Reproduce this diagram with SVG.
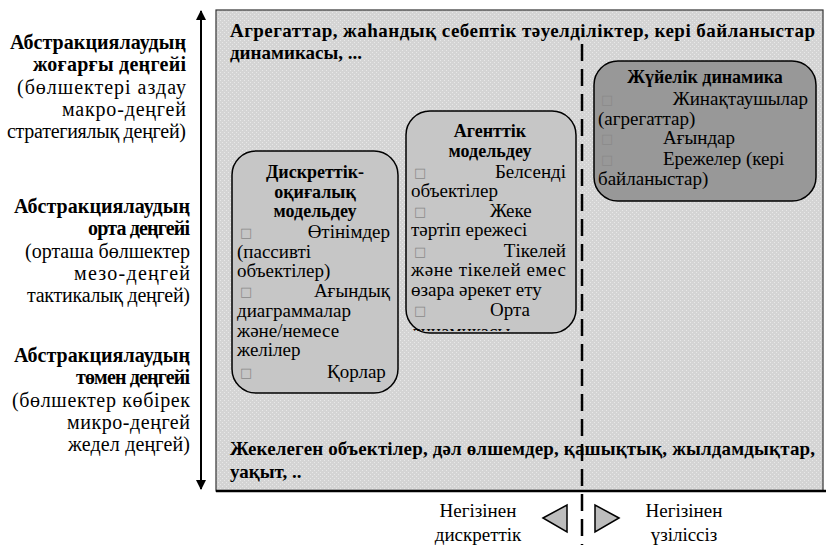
<svg xmlns="http://www.w3.org/2000/svg" width="826" height="545" viewBox="0 0 826 545">
<defs>
<pattern id="dots" width="4" height="4" patternUnits="userSpaceOnUse">
<rect width="4" height="4" fill="#d4d4d4"/>
<rect x="0" y="0" width="1" height="1" fill="#e8e8e8"/>
<rect x="2" y="2" width="1" height="1" fill="#e8e8e8"/>
</pattern>
<marker id="ah" viewBox="0 0 10 10" refX="9" refY="5" markerWidth="10" markerHeight="10" markerUnits="userSpaceOnUse" orient="auto-start-reverse">
<path d="M0,0 L10,5 L0,10 Z" fill="#000"/>
</marker>
<clipPath id="clip2"><rect x="400" y="100" width="190" height="231"/></clipPath>
</defs>
<style>
text{font-family:'Liberation Serif','Times New Roman',serif}
.lbl{font-size:19px;fill:#000}
.side{font-size:20px;fill:#000}
.b{font-weight:bold}
.bx{font-size:19px;fill:#000}
.bx .b{font-size:18px}
.bul text{font-family:'DejaVu Sans',sans-serif;font-size:13px;fill:#8a8a8a}
.box{stroke:#000;stroke-width:1.5}
</style>

<g id="axis">
<line x1="201" y1="11" x2="201" y2="489" stroke="#000" stroke-width="2" marker-start="url(#ah)" marker-end="url(#ah)"/>
</g>

<g id="levels" class="side" text-anchor="end" lengthAdjust="spacing">
<text x="186" y="49" class="b" textLength="176">Абстракциялаудың</text>
<text x="186" y="71" class="b" textLength="153">жоғарғы деңгейі</text>
<text x="186" y="94" textLength="169">(бөлшектері аздау</text>
<text x="186" y="116" textLength="124">макро-деңгей</text>
<text x="186" y="138" textLength="179">стратегиялық деңгей)</text>
<text x="190" y="213" class="b" textLength="176">Абстракциялаудың</text>
<text x="190" y="235" class="b" textLength="102">орта деңгейі</text>
<text x="190" y="258" textLength="165">(орташа бөлшектер</text>
<text x="190" y="280" textLength="116">мезо-деңгей</text>
<text x="190" y="302" textLength="163">тактикалық деңгей)</text>
<text x="190" y="362" class="b" textLength="176">Абстракциялаудың</text>
<text x="190" y="384" class="b" textLength="114">төмен деңгейі</text>
<text x="190" y="407" textLength="178">(бөлшектер көбірек</text>
<text x="190" y="429" textLength="123">микро-деңгей</text>
<text x="190" y="451" textLength="122">жедел деңгей)</text>
</g>

<g id="area">
<rect x="216" y="10" width="607" height="481" fill="url(#dots)" stroke="#333" stroke-width="1.2"/>
<line x1="216" y1="491" x2="826" y2="491" stroke="#000" stroke-width="2.5"/>
<text class="lbl b" x="230" y="37" textLength="585" lengthAdjust="spacing">Агрегаттар, жаһандық себептік тәуелділіктер, кері байланыстар</text>
<text class="lbl b" x="230" y="59">динамикасы, ...</text>
<text class="lbl b" x="230" y="455" textLength="585" lengthAdjust="spacing">Жекелеген объектілер, дәл өлшемдер, қашықтық, жылдамдықтар,</text>
<text class="lbl b" x="230" y="478">уақыт, ..</text>
</g>

<g id="discrete">
<rect class="box" x="232" y="151" width="166" height="242" rx="24" fill="#c6c6c6"/>
<g class="bx">
<text x="315" y="178" text-anchor="middle" class="b">Дискреттік-</text>
<text x="315" y="198" text-anchor="middle" class="b">оқиғалық</text>
<text x="315" y="217" text-anchor="middle" class="b">модельдеу</text>
<text x="390" y="238" text-anchor="end">Өтінімдер</text>
<text x="237" y="258">(пассивті</text>
<text x="237" y="277">объектілер)</text>
<text x="390" y="297" text-anchor="end">Ағындық</text>
<text x="237" y="317">диаграммалар</text>
<text x="237" y="337">және/немесе</text>
<text x="237" y="356">желілер</text>
<text x="327" y="378">Қорлар</text>
</g>
<g class="bul">
<text x="240" y="237">□</text>
<text x="240" y="296">□</text>
<text x="240" y="377">□</text>
</g>
</g>

<g id="agent">
<rect class="box" x="406" y="111" width="170" height="222" rx="24" fill="#c6c6c6"/>
<g class="bx" clip-path="url(#clip2)">
<text x="490" y="137" text-anchor="middle" class="b">Агенттік</text>
<text x="490" y="157" text-anchor="middle" class="b">модельдеу</text>
<text x="566" y="178" text-anchor="end">Белсенді</text>
<text x="411" y="197">объектілер</text>
<text x="490" y="217">Жеке</text>
<text x="411" y="236">тәртіп ережесі</text>
<text x="566" y="257" text-anchor="end">Тікелей</text>
<text x="411" y="276" textLength="155" lengthAdjust="spacing">және тікелей емес</text>
<text x="411" y="296">өзара әрекет ету</text>
<text x="490" y="316">Орта</text>
<text x="411" y="338">динамикасы</text>
</g>
<g class="bul">
<text x="414" y="177">□</text>
<text x="414" y="216">□</text>
<text x="414" y="256">□</text>
<text x="414" y="315">□</text>
</g>
</g>

<g id="system">
<rect class="box" x="594" y="61" width="222" height="140" rx="24" fill="#989898"/>
<g class="bx">
<text x="705" y="83" text-anchor="middle" class="b">Жүйелік динамика</text>
<text x="808" y="105" text-anchor="end">Жинақтаушылар</text>
<text x="598" y="125">(агрегаттар)</text>
<text x="663" y="144">Ағындар</text>
<text x="663" y="165">Ережелер (кері</text>
<text x="598" y="185">байланыстар)</text>
</g>
<g class="bul">
<text x="601" y="104">□</text>
<text x="601" y="143">□</text>
<text x="601" y="164">□</text>
</g>
</g>

<g id="connectors">
<line x1="582" y1="44" x2="582" y2="545" stroke="#000" stroke-width="2.5" stroke-dasharray="17,8"/>
<polygon points="543,518 567,505 567,532" fill="#bdbdbd" stroke="#000" stroke-width="1.5"/>
<polygon points="619,518 595,505 595,532" fill="#bdbdbd" stroke="#000" stroke-width="1.5"/>
</g>

<g id="bottom-labels" class="lbl" text-anchor="middle">
<text x="478" y="517">Негізінен</text>
<text x="478" y="541">дискреттік</text>
<text x="684" y="517">Негізінен</text>
<text x="684" y="541">үзіліссіз</text>
</g>
</svg>
